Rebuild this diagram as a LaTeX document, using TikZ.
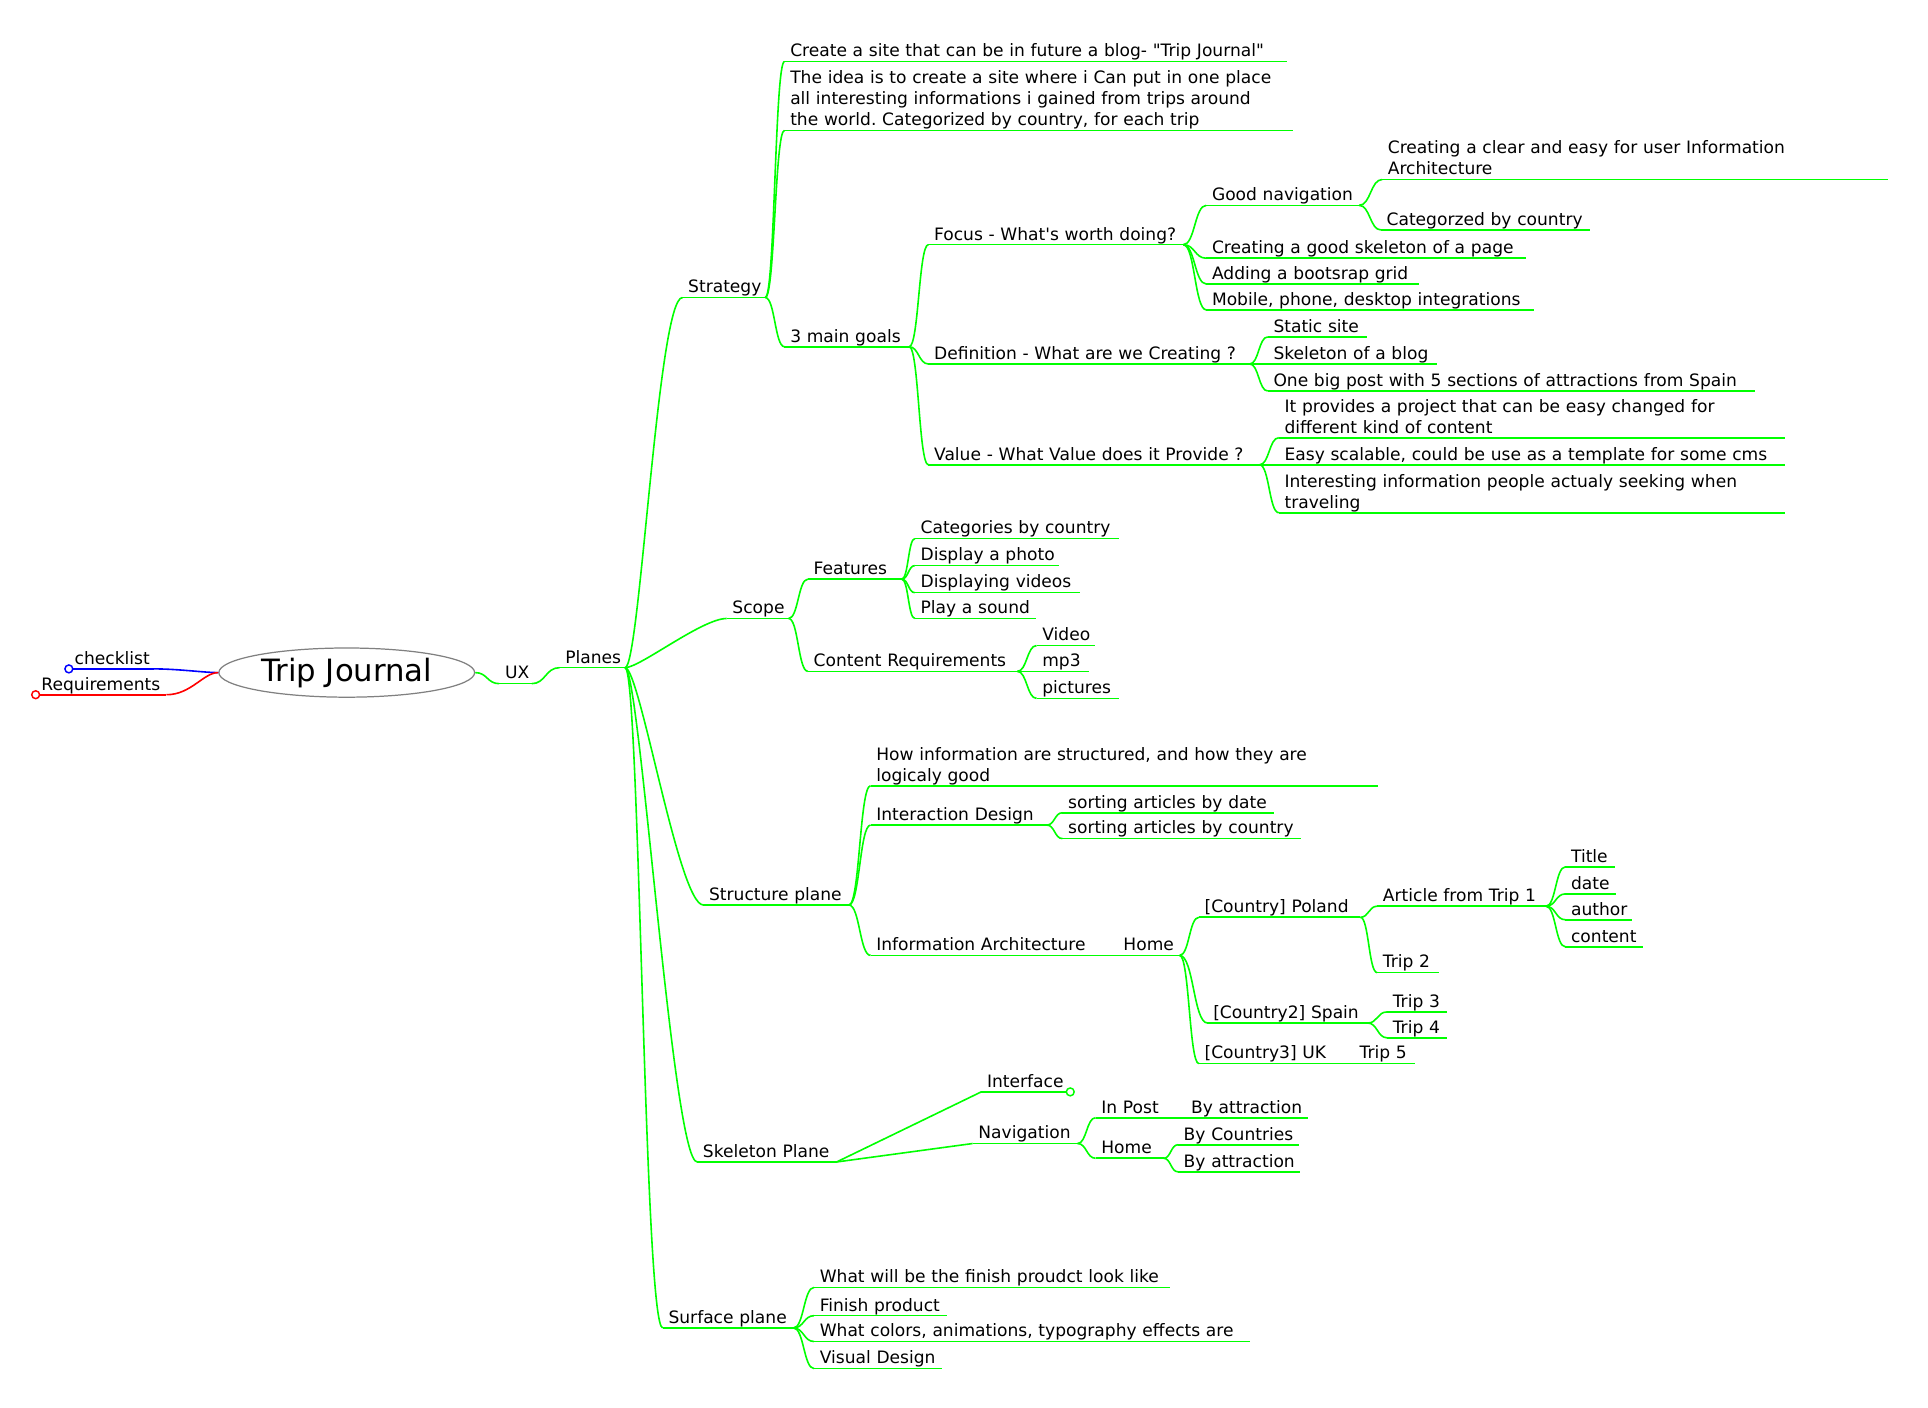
\documentclass[tikz,border=0pt]{standalone}
\usepackage{fontspec}
\setmainfont{DejaVu Sans}
\frenchspacing
\usetikzlibrary{shapes.geometric, calc}
\definecolor{mmgreen}{RGB}{0,255,0}
\tikzstyle{branch} = [mmgreen, line width=1.3pt]
\tikzstyle{fold} = [fill=white, line width=1.2pt]
\tikzset{
  fork/.style={to path={let \p1=(\tikztostart), \p2=(\tikztotarget) in
    .. controls +({min(12pt,(\x2-\x1)/2)},0pt) and +({-min(20pt,(\x2-\x1)/2)},0pt) .. (\tikztotarget)}},
  lfork/.style={to path={let \p1=(\tikztostart), \p2=(\tikztotarget) in
    .. controls +({-min(12pt,(\x1-\x2)/2)},0pt) and +({min(20pt,(\x1-\x2)/2)},0pt) .. (\tikztotarget)}},
  uline/.style={draw=mmgreen, line width=1.3pt},
  topic/.style={anchor=south west, text width=#1pt, inner xsep=0pt, inner ysep=0pt,
    font=\fontsize{13.9}{17}\selectfont,
    execute at begin node={\raggedright\leftskip=4.5pt\relax},
    execute at end node={\vrule width 0pt height 10.5pt depth 3.6pt},
    append after command={(\tikzlastnode.south west) edge[uline] (\tikzlastnode.south east)}}
}

\begin{document}
\begin{tikzpicture}[x=1pt, y=-1pt]
  \useasboundingbox (0,0) rectangle (1568,1145);

  \node[ellipse, draw=gray, line width=1pt, minimum width=208pt, minimum height=40pt,
    inner sep=0pt, font=\fontsize{25}{30}\selectfont] (root) at (282,547) {Trip Journal};

  % left side
  \begin{scope}[uline/.style={draw=blue, line width=1.3pt}]
    \node[topic=69] (checklist) at (56,544) {checklist};
  \end{scope}
  \begin{scope}[uline/.style={draw=red, line width=1.3pt}]
    \node[topic=106] (requirements) at (29,565) {Requirements};
  \end{scope}
  \draw[blue, line width=1.3pt] (root.west) to[lfork] (checklist.south east);
  \draw[red, line width=1.3pt] (root.west) to[lfork] (requirements.south east);
  \draw[blue, fold] (checklist.south west) circle (3.2pt);
  \draw[red, fold] (requirements.south west) circle (3.2pt);

  % right side
  \node[topic=26] (ux) at (406,556) {UX};
  \node[topic=53] (planes) at (455,543) {Planes};

  \node[topic=67] (strategy) at (555,242) {Strategy};
  \node[topic=50] (scopeplane) at (591,503) {Scope};
  \node[topic=118] (structure) at (572,736) {Structure plane};
  \node[topic=113] (skeleton) at (567,945) {Skeleton Plane};
  \node[topic=106] (surface) at (539,1080) {Surface plane};

  % strategy
  \node[topic=408] (create) at (638,50) {Create a site that can be in future a blog- \textquotedbl Trip Journal\textquotedbl};
  \node[topic=413] (idea) at (638,106) {The idea is to create a site where i Can put in one place\\all interesting informations i gained from trips around\\the world. Categorized by country, for each trip};
  \node[topic=101] (goals) at (638,282) {3 main goals};

  \node[topic=207] (focus) at (755,199) {Focus - What\textquotesingle s worth doing?};
  \node[topic=261] (definition) at (755,296) {Definition - What are we Creating ?};
  \node[topic=269] (valuenode) at (755,378) {Value - What Value does it Provide ?};

  \node[topic=124] (goodnav) at (981,167) {Good navigation};
  \node[topic=260] (skelpage) at (981,210) {Creating a good skeleton of a page};
  \node[topic=173] (grid) at (981,231) {Adding a bootsrap grid};
  \node[topic=266] (mobile) at (981,252) {Mobile, phone, desktop integrations};

  \node[topic=411] (clearia) at (1124,146) {Creating a clear and easy for user Information\\Architecture};
  \node[topic=170] (categorzed) at (1123,187) {Categorzed by country};

  \node[topic=80] (static) at (1031,274) {Static site};
  \node[topic=137] (blogskel) at (1031,296) {Skeleton of a blog};
  \node[topic=396] (bigpost) at (1031,318) {One big post with 5 sections of attractions from Spain};

  \node[topic=411] (provides) at (1040,356) {It provides a project that can be easy changed for\\different kind of content};
  \node[topic=411] (scalable) at (1040,378) {Easy scalable, could be use as a template for some cms};
  \node[topic=411] (interesting) at (1040,417) {Interesting information people actualy seeking when\\traveling};

  % scope
  \node[topic=76] (features) at (657,471) {Features};
  \node[topic=170] (contentreq) at (657,546) {Content Requirements};

  \node[topic=166] (catcountry) at (744,438) {Categories by country};
  \node[topic=117] (photo) at (744,460) {Display a photo};
  \node[topic=134] (videos) at (744,482) {Displaying videos};
  \node[topic=98] (sound) at (744,503) {Play a sound};

  \node[topic=47] (video) at (843,525) {Video};
  \node[topic=42] (mpthree) at (843,546) {mp3};
  \node[topic=67] (pictures) at (843,568) {pictures};

  % structure
  \node[topic=412] (howinfo) at (708,639) {How information are structured, and how they are\\logicaly good};
  \node[topic=143] (interaction) at (708,671) {Interaction Design};
  \node[topic=183] (infoarch) at (708,777) {Information Architecture};
  \node[topic=50] (home) at (909,777) {Home};

  \node[topic=172] (bydate) at (864,661) {sorting articles by date};
  \node[topic=194] (bycountry) at (864,682) {sorting articles by country};

  \node[topic=131] (poland) at (975,746) {[Country] Poland};
  \node[topic=130] (spain) at (982,832) {[Country2] Spain};
  \node[topic=110] (uk) at (975,865) {[Country3] UK};
  \node[topic=49] (tripfive) at (1101,865) {Trip 5};

  \node[topic=137] (article) at (1120,737) {Article from Trip 1};
  \node[topic=50] (triptwo) at (1120,791) {Trip 2};
  \node[topic=40] (title) at (1273,705) {Title};
  \node[topic=41] (date) at (1273,727) {date};
  \node[topic=54] (author) at (1273,748) {author};
  \node[topic=63] (content) at (1273,770) {content};

  \node[topic=48] (tripthree) at (1128,823) {Trip 3};
  \node[topic=48] (tripfour) at (1128,844) {Trip 4};

  % skeleton
  \node[topic=72] (interface) at (798,888) {Interface};
  \node[topic=85] (navigation) at (791,930) {Navigation};
  \node[topic=71] (inpost) at (891,909) {In Post};
  \node[topic=99] (byattr) at (964,909) {By attraction};
  \node[topic=55] (navhome) at (891,942) {Home};
  \node[topic=98] (bycountries) at (958,931) {By Countries};
  \node[topic=99] (byattrhome) at (958,953) {By attraction};

  % surface
  \node[topic=289] (finishlook) at (662,1047) {What will be the finish proudct look like};
  \node[topic=108] (finish) at (662,1070) {Finish product};
  \node[topic=354] (colors) at (662,1091) {What colors, animations, typography effects are};
  \node[topic=104] (visual) at (662,1113) {Visual Design};

  % connectors
  \draw[branch] (root.east) to[fork] (ux.south west);
  \draw[branch] (ux.south east) to[fork] (planes.south west);
  \foreach \k in {strategy,scopeplane,structure,skeleton,surface}
    \draw[branch] (planes.south east) to[fork] (\k.south west);
  \foreach \k in {create,idea,goals}
    \draw[branch] (strategy.south east) to[fork] (\k.south west);
  \foreach \k in {focus,definition,valuenode}
    \draw[branch] (goals.south east) to[fork] (\k.south west);
  \foreach \k in {goodnav,skelpage,grid,mobile}
    \draw[branch] (focus.south east) to[fork] (\k.south west);
  \foreach \k in {clearia,categorzed}
    \draw[branch] (goodnav.south east) to[fork] (\k.south west);
  \foreach \k in {static,blogskel,bigpost}
    \draw[branch] (definition.south east) to[fork] (\k.south west);
  \foreach \k in {provides,scalable,interesting}
    \draw[branch] (valuenode.south east) to[fork] (\k.south west);
  \foreach \k in {features,contentreq}
    \draw[branch] (scopeplane.south east) to[fork] (\k.south west);
  \foreach \k in {catcountry,photo,videos,sound}
    \draw[branch] (features.south east) to[fork] (\k.south west);
  \foreach \k in {video,mpthree,pictures}
    \draw[branch] (contentreq.south east) to[fork] (\k.south west);
  \foreach \k in {howinfo,interaction,infoarch}
    \draw[branch] (structure.south east) to[fork] (\k.south west);
  \foreach \k in {bydate,bycountry}
    \draw[branch] (interaction.south east) to[fork] (\k.south west);
  \draw[branch] (infoarch.south east) -- (home.south west);
  \foreach \k in {poland,spain,uk}
    \draw[branch] (home.south east) to[fork] (\k.south west);
  \draw[branch] (uk.south east) -- (tripfive.south west);
  \foreach \k in {article,triptwo}
    \draw[branch] (poland.south east) to[fork] (\k.south west);
  \foreach \k in {title,date,author,content}
    \draw[branch] (article.south east) to[fork] (\k.south west);
  \foreach \k in {tripthree,tripfour}
    \draw[branch] (spain.south east) to[fork] (\k.south west);
  \draw[branch] (skeleton.south east) -- (interface.south west);
  \draw[branch] (skeleton.south east) -- (navigation.south west);
  \draw[mmgreen, fold] (interface.south east) circle (3.2pt);
  \foreach \k in {inpost,navhome}
    \draw[branch] (navigation.south east) to[fork] (\k.south west);
  \draw[branch] (inpost.south east) -- (byattr.south west);
  \foreach \k in {bycountries,byattrhome}
    \draw[branch] (navhome.south east) to[fork] (\k.south west);
  \foreach \k in {finishlook,finish,colors,visual}
    \draw[branch] (surface.south east) to[fork] (\k.south west);
\end{tikzpicture}
\end{document}
